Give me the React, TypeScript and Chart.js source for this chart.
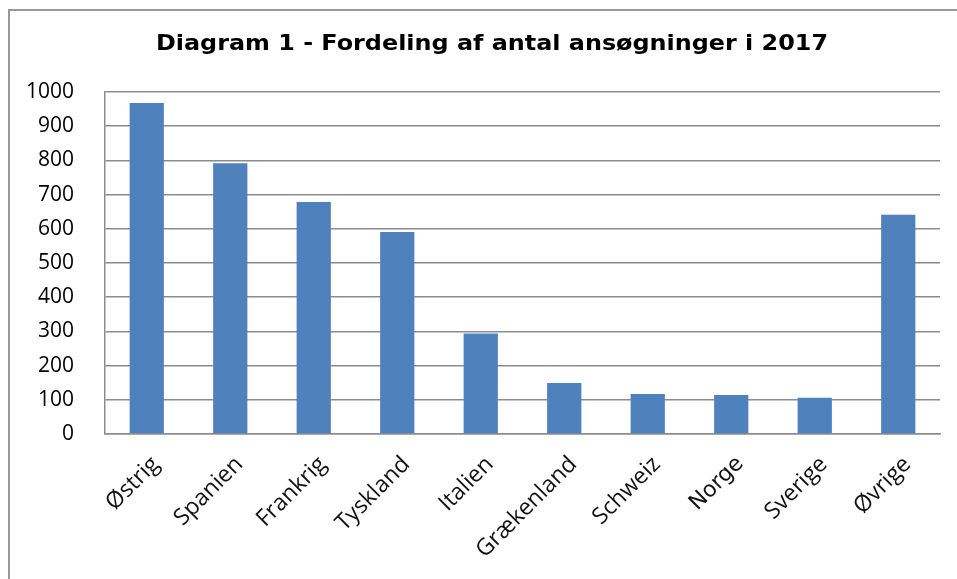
import React, { useEffect, useRef } from "react";
import { Chart, registerables } from "chart.js";

Chart.register(...registerables);

const categories = ["Østrig", "Spanien", "Frankrig", "Tyskland", "Italien", "Grækenland", "Schweiz", "Norge", "Sverige", "Øvrige"];
const values = [968, 792, 678, 591, 294, 149, 117, 114, 106, 641];
const titleText = "Diagram 1 - Fordeling af antal ansøgninger i 2017";

const titlePlugin = {
  id: "customTitle",
  afterDraw(chart: any) {
    const ctx = chart.ctx;
    ctx.save();
    ctx.font = "bold 21px 'DejaVu Sans'";
    ctx.fillStyle = "#000";
    ctx.textAlign = "center";
    ctx.textBaseline = "middle";
    const w = ctx.measureText(titleText).width;
    const sx = 672 / w;
    ctx.translate(492, 45);
    ctx.scale(sx, 1);
    ctx.fillText(titleText, 0, 0);
    ctx.restore();
  },
};

export default function App() {
  const ref = useRef<HTMLCanvasElement | null>(null);
  useEffect(() => {
    let chart: any = null;
    let cancelled = false;
    const make = () => {
      if (cancelled || !ref.current) return;
      chart = new Chart(ref.current, {
        type: "bar",
        data: {
          labels: categories,
          datasets: [
            {
              data: values,
              backgroundColor: "#4F81BD",
              borderWidth: 0,
              barPercentage: 0.41,
              categoryPercentage: 1,
            },
          ],
        },
        options: {
          animation: false,
          responsive: false,
          maintainAspectRatio: false,
          layout: { padding: { top: 92, right: 17, left: 0, bottom: 0 } },
          plugins: { legend: { display: false }, title: { display: false }, tooltip: { enabled: false } },
          scales: {
            y: {
              min: 0,
              max: 1000,
              ticks: {
                stepSize: 100,
                color: "#000",
                font: { family: "'Open Sans'", size: 21 },
                padding: 31,
                callback: (v: any) => String(v),
              },
              grid: { color: "#8c8c8c", lineWidth: 1.5, drawTicks: false },
              border: { color: "#8c8c8c", width: 1.5 },
              afterFit: (s: any) => { s.width = 105; },
            },
            x: {
              ticks: {
                color: "#111",
                font: (c: any) =>
                  c.index === 7
                    ? { family: "'DejaVu Sans'", size: 22 }
                    : { family: "'Open Sans'", size: 23 },
                minRotation: 45,
                maxRotation: 45,
                autoSkip: false,
                padding: 17,
                labelOffset: 9,
              },
              grid: { display: false, drawTicks: false },
              border: { color: "#8c8c8c", width: 1.5 },
              afterFit: (s: any) => { s.height = 145; },
            },
          },
        },
        plugins: [titlePlugin],
      });
    };
    Promise.all([
      document.fonts.load("23px 'Open Sans'"),
      document.fonts.load("22px 'DejaVu Sans'"),
      document.fonts.load("bold 21px 'DejaVu Sans'"),
    ])
      .catch(() => null)
      .then(make);
    return () => {
      cancelled = true;
      if (chart) chart.destroy();
    };
  }, []);
  return (
    <div style={{ position: "fixed", left: 0, top: 0, width: 957, height: 579, background: "#fff", overflow: "hidden" }}>
      <div style={{ position: "absolute", left: 8, top: 9, width: 960, height: 600, border: "2px solid #999", boxSizing: "border-box" }} />
      <canvas ref={ref} width={957} height={579} style={{ position: "absolute", left: 0, top: 0 }} />
    </div>
  );
}
